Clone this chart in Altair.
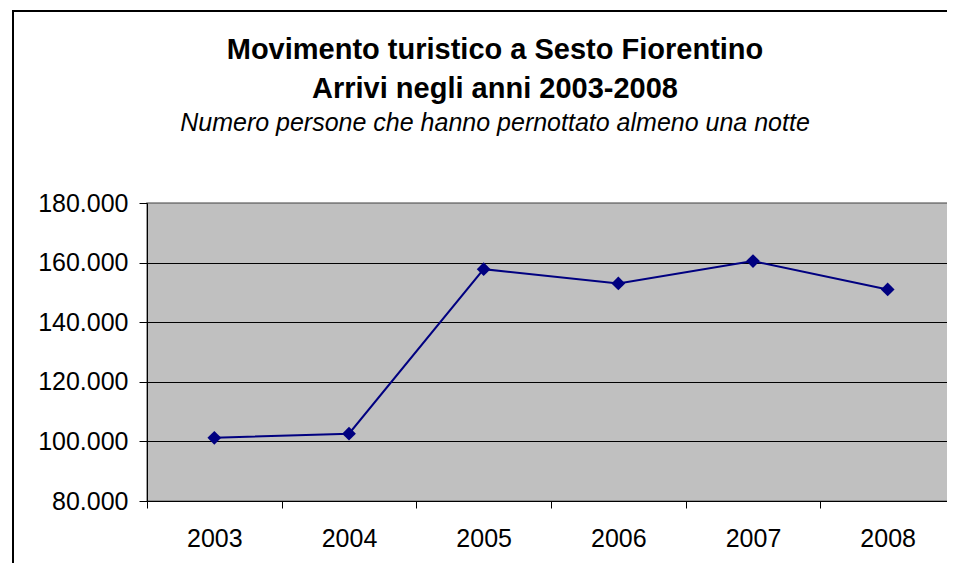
import altair as alt
import pandas as pd

anni = ["2003", "2004", "2005", "2006", "2007", "2008"]
arrivi = [101200, 102600, 157800, 153000, 160500, 151000]
y_ticks = [80000, 100000, 120000, 140000, 160000, 180000]

titolo_1 = "Movimento turistico a Sesto Fiorentino"
titolo_2 = "Arrivi negli anni 2003-2008"
sottotitolo = "Numero persone che hanno pernottato almeno una notte"

df = pd.DataFrame({"anno": anni, "arrivi": arrivi})
one = pd.DataFrame({"k": [0]})

FONT = "Liberation Sans"

x_enc = alt.X(
    "anno:O",
    scale=alt.Scale(type="band", paddingInner=0, paddingOuter=0),
    sort=anni,
    axis=alt.Axis(
        title=None, labelAngle=0, tickBand="extent", tickSize=7,
        tickColor="#000000", domainColor="#000000", labelFontSize=25,
        labelFont=FONT, labelColor="#000000", labelPadding=18, grid=False,
    ),
)
y_enc = alt.Y(
    "arrivi:Q",
    scale=alt.Scale(domain=[80000, 180000], nice=False, zero=False),
    axis=alt.Axis(
        title=None, values=y_ticks, tickSize=8, labelPadding=11,
        tickColor="#000000", domainColor="#000000", labelFontSize=25,
        labelFont=FONT, labelColor="#000000",
        labelExpr="replace(format(datum.value, ',d'), ',', '.')",
        grid=True,
        gridColor=alt.condition("datum.value >= 180000", alt.value("#808080"), alt.value("#000000")),
        gridOpacity=1, gridWidth=1,
    ),
)

base = alt.Chart(df)
line = base.mark_line(color="#000080", strokeWidth=2).encode(x=x_enc, y=y_enc)
pts = base.mark_point(shape="diamond", filled=True, color="#000080", size=190, opacity=1).encode(x=x_enc, y=y_enc)

# outer chart-area frame (its right and bottom sides fall outside the window, as in the reference)
frame = alt.Chart(one).mark_rect(
    fillOpacity=0, stroke="#000000", strokeWidth=2, clip=False
).encode(
    x=alt.value(-134), x2=alt.value(2000), y=alt.value(-192), y2=alt.value(2000)
)

t1 = alt.Chart(one).mark_text(
    font=FONT, fontSize=29, fontWeight="bold", color="#000000", align="center", baseline="alphabetic", clip=False
).encode(x=alt.value(348), y=alt.value(59 - 203), text=alt.value(titolo_1))
t2 = alt.Chart(one).mark_text(
    font=FONT, fontSize=29, fontWeight="bold", color="#000000", align="center", baseline="alphabetic", clip=False
).encode(x=alt.value(348), y=alt.value(98 - 203), text=alt.value(titolo_2))
t3 = alt.Chart(one).mark_text(
    font=FONT, fontSize=25, fontStyle="italic", color="#000000", align="center", baseline="alphabetic", clip=False
).encode(x=alt.value(348), y=alt.value(131 - 203), text=alt.value(sottotitolo))

chart = alt.layer(frame, line, pts, t1, t2, t3).properties(
    width=808,
    height=298,
    autosize=alt.AutoSizeParams(type="none"),
    padding={"left": 139, "top": 195, "right": -8, "bottom": 62},
    background="#FFFFFF",
).configure_view(
    fill="#C0C0C0", stroke="#808080", strokeWidth=1.5
)

chart.save("out.html", embed_options={"renderer": "svg", "actions": False})
